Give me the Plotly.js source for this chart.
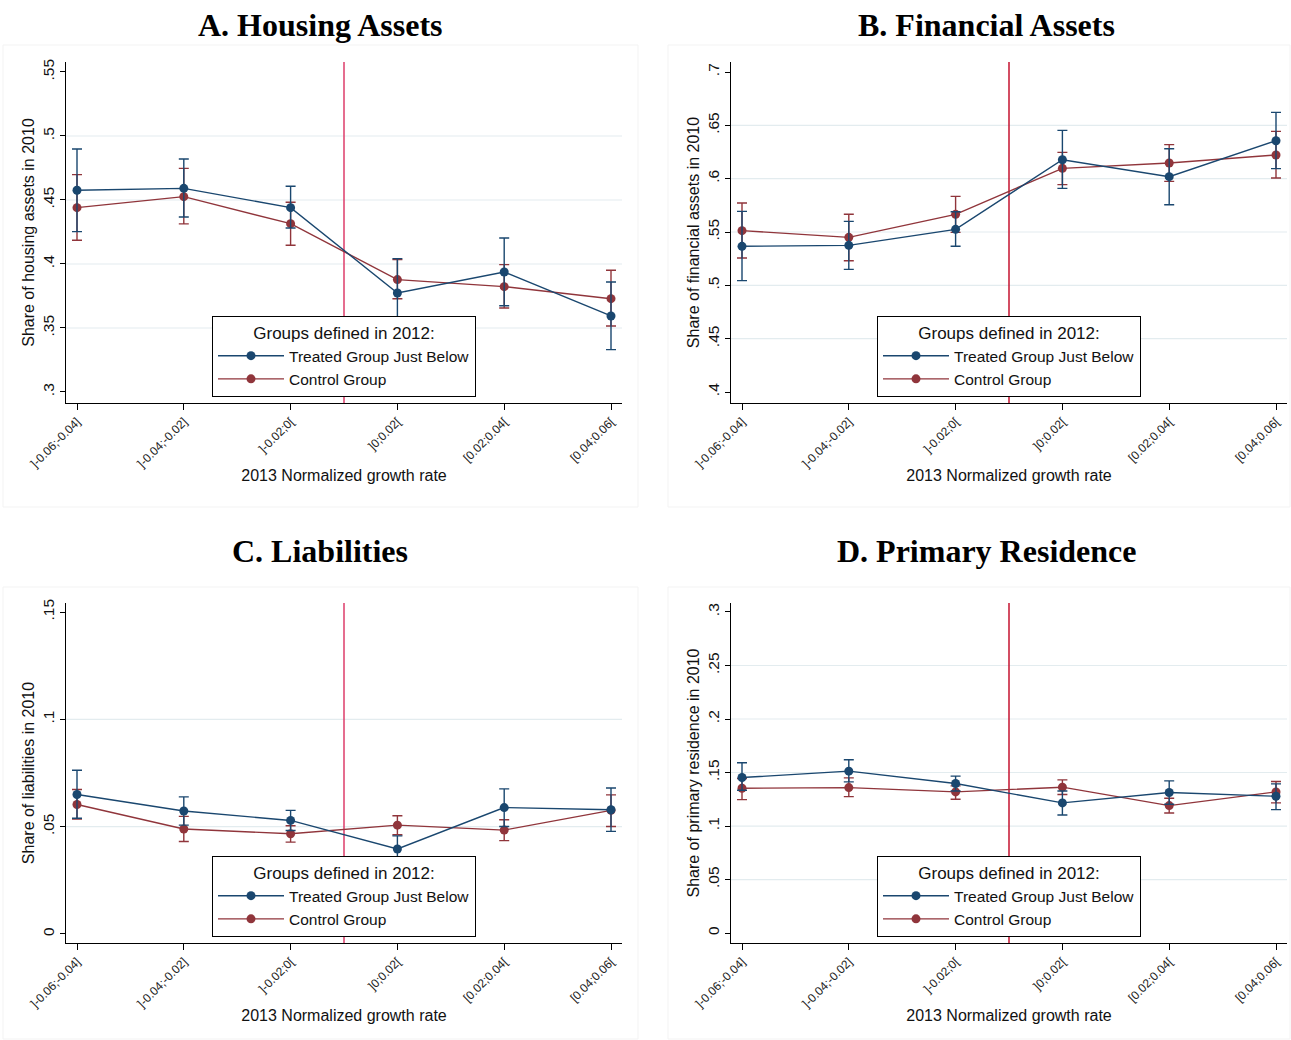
<!DOCTYPE html>
<html>
<head>
<meta charset="utf-8">
<script src="https://cdn.plot.ly/plotly-3.0.1.min.js"></script>
<style>
  html, body { margin: 0; padding: 0; background: #ffffff; }
  #chart { width: 1291px; height: 1040px; }
</style>
</head>
<body>
<div id="chart"></div>
<script>
// ---------- Data ----------
const categories = [']-0.06;-0.04]', ']-0.04;-0.02]', ']-0.02;0[', ']0;0.02[', '[0.02;0.04[', '[0.04;0.06['];
const cutoffBetween = [2, 3]; // vertical line drawn between 3rd and 4th categories (0-based indices)

const panelTitles = ['A. Housing Assets', 'B. Financial Assets', 'C. Liabilities', 'D. Primary Residence'];
const yTitles = ['Share of housing assets in 2010', 'Share of financial assets in 2010',
                 'Share of liabilities in 2010', 'Share of primary residence in 2010'];
const xTitle = '2013 Normalized growth rate';
const legendTitle = 'Groups defined in 2012:';
const seriesNames = ['Treated Group Just Below', 'Control Group'];

// A. Housing assets
const housingTreated    = [0.4576, 0.4591, 0.4440, 0.3773, 0.3937, 0.3594];
const housingTreatedLo  = [0.4253, 0.4367, 0.4281, 0.3504, 0.3674, 0.3331];
const housingTreatedHi  = [0.4898, 0.4820, 0.4607, 0.4042, 0.4203, 0.3859];
const housingControl    = [0.4440, 0.4526, 0.4315, 0.3878, 0.3823, 0.3729];
const housingControlLo  = [0.4185, 0.4313, 0.4146, 0.3729, 0.3656, 0.3516];
const housingControlHi  = [0.4698, 0.4747, 0.4482, 0.4034, 0.3995, 0.3951];

// B. Financial assets
const financialTreated   = [0.5366, 0.5375, 0.5525, 0.6178, 0.6019, 0.6356];
const financialTreatedLo = [0.5044, 0.5150, 0.5366, 0.5909, 0.5756, 0.6094];
const financialTreatedHi = [0.5694, 0.5600, 0.5690, 0.6453, 0.6281, 0.6622];
const financialControl   = [0.5513, 0.5450, 0.5666, 0.6097, 0.6147, 0.6222];
const financialControlLo = [0.5256, 0.5231, 0.5497, 0.5944, 0.5975, 0.6006];
const financialControlHi = [0.5772, 0.5666, 0.5834, 0.6247, 0.6319, 0.6444];

// C. Liabilities
const liabTreated   = [0.0650, 0.0573, 0.0529, 0.0396, 0.0589, 0.0579];
const liabTreatedLo = [0.0539, 0.0507, 0.0482, 0.0337, 0.0501, 0.0478];
const liabTreatedHi = [0.0763, 0.0639, 0.0576, 0.0457, 0.0676, 0.0680];
const liabControl   = [0.0603, 0.0489, 0.0467, 0.0507, 0.0484, 0.0576];
const liabControlLo = [0.0536, 0.0431, 0.0428, 0.0462, 0.0435, 0.0501];
const liabControlHi = [0.0673, 0.0548, 0.0504, 0.0551, 0.0532, 0.0648];

// D. Primary residence
const resTreated   = [0.1453, 0.1513, 0.1397, 0.1216, 0.1313, 0.1278];
const resTreatedLo = [0.1334, 0.1413, 0.1328, 0.1103, 0.1203, 0.1153];
const resTreatedHi = [0.1591, 0.1619, 0.1466, 0.1328, 0.1422, 0.1394];
const resControl   = [0.1353, 0.1359, 0.1319, 0.1363, 0.1191, 0.1319];
const resControlLo = [0.1247, 0.1275, 0.1250, 0.1294, 0.1122, 0.1216];
const resControlHi = [0.1444, 0.1450, 0.1375, 0.1431, 0.1259, 0.1416];

// Y tick values / labels
const yTicksA = [0.3, 0.35, 0.4, 0.45, 0.5, 0.55];
const yLabelsA = ['.3', '.35', '.4', '.45', '.5', '.55'];
const yTicksB = [0.4, 0.45, 0.5, 0.55, 0.6, 0.65, 0.7];
const yLabelsB = ['.4', '.45', '.5', '.55', '.6', '.65', '.7'];
const yTicksC = [0, 0.05, 0.1, 0.15];
const yLabelsC = ['0', '.05', '.1', '.15'];
const yTicksD = [0, 0.05, 0.1, 0.15, 0.2, 0.25, 0.3];
const yLabelsD = ['0', '.05', '.1', '.15', '.2', '.25', '.3'];

// ---------- Styling ----------
const W = 1291, H = 1040;
const px = v => v / W;
const py = v => 1 - v / H;
const BLUE = '#1a476f';
const RED = '#90353b';
const CUT_AC = '#dc3c6a';
const CUT_BD = '#c4122f';
const GRID = '#e3ecef';
const SANS = 'Liberation Sans, Arial, sans-serif';
const SERIF = 'Liberation Serif, Times New Roman, serif';

const xPos = categories.map((_, i) => i + 1);
const cutX = (xPos[cutoffBetween[0]] + xPos[cutoffBetween[1]]) / 2;

const panels = [
  { t: housingTreated, tlo: housingTreatedLo, thi: housingTreatedHi,
    c: housingControl, clo: housingControlLo, chi: housingControlHi,
    ticks: yTicksA, labels: yLabelsA, range: [0.2914, 0.5578],
    dx: [66, 622], dy: [62, 403], cut: CUT_AC, frame: [3, 638, 45, 507], titleX: 320, titleY: 25 },
  { t: financialTreated, tlo: financialTreatedLo, thi: financialTreatedHi,
    c: financialControl, clo: financialControlLo, chi: financialControlHi,
    ticks: yTicksB, labels: yLabelsB, range: [0.3897, 0.7094],
    dx: [731, 1287], dy: [62, 403], cut: CUT_BD, frame: [668, 1290, 45, 507], titleX: 986, titleY: 25 },
  { t: liabTreated, tlo: liabTreatedLo, thi: liabTreatedHi,
    c: liabControl, clo: liabControlLo, chi: liabControlHi,
    ticks: yTicksC, labels: yLabelsC, range: [-0.0042, 0.1542],
    dx: [66, 622], dy: [603, 943], cut: CUT_AC, frame: [3, 638, 587, 1039], titleX: 320, titleY: 551 },
  { t: resTreated, tlo: resTreatedLo, thi: resTreatedHi,
    c: resControl, clo: resControlLo, chi: resControlHi,
    ticks: yTicksD, labels: yLabelsD, range: [-0.0093, 0.3084],
    dx: [731, 1287], dy: [603, 943], cut: CUT_BD, frame: [668, 1290, 587, 1039], titleX: 986, titleY: 551 }
];

const traces = [];
const shapes = [];
const annotations = [];
const layout = {
  width: W, height: H,
  margin: { l: 0, r: 0, t: 0, b: 0 },
  paper_bgcolor: '#ffffff',
  plot_bgcolor: '#ffffff',
  font: { family: SANS, color: '#111111' },
  showlegend: true,
  shapes: shapes,
  annotations: annotations
};

panels.forEach((p, i) => {
  const n = i + 1;
  const sfx = n === 1 ? '' : String(n);
  const xa = 'x' + sfx, ya = 'y' + sfx;
  const lg = n === 1 ? 'legend' : 'legend' + n;

  const mk = (vals, lo, hi, color, name) => ({
    type: 'scatter', mode: 'lines+markers',
    x: xPos, y: vals, name: name,
    xaxis: xa, yaxis: ya, legend: lg,
    line: { color: color, width: 1.4 },
    marker: { color: color, size: 9, symbol: 'circle' },
    error_y: {
      type: 'data', symmetric: false,
      array: hi.map((h, k) => h - vals[k]),
      arrayminus: lo.map((l, k) => vals[k] - l),
      color: color, thickness: 1.4, width: 5
    },
    hoverinfo: 'x+y'
  });
  traces.push(mk(p.c, p.clo, p.chi, RED, seriesNames[1]));
  traces.push(mk(p.t, p.tlo, p.thi, BLUE, seriesNames[0]));

  layout['xaxis' + sfx] = {
    domain: [px(p.dx[0]), px(p.dx[1])],
    anchor: ya,
    range: [0.897, 6.103],
    tickvals: xPos, ticktext: categories,
    tickangle: -45,
    ticks: 'outside', ticklen: 6, tickwidth: 1, tickcolor: '#000',
    showline: true, linecolor: '#000', linewidth: 1,
    showgrid: false, zeroline: false,
    tickfont: { family: SANS, size: 12, color: '#222' },
    title: { text: xTitle, font: { family: SANS, size: 16, color: '#111' }, standoff: 0 },
    fixedrange: true
  };
  layout['yaxis' + sfx] = {
    domain: [py(p.dy[1]), py(p.dy[0])],
    anchor: xa,
    range: p.range,
    tickvals: p.ticks, ticktext: p.labels,
    tickangle: -90,
    ticks: 'outside', ticklen: 5, tickwidth: 1, tickcolor: '#000',
    showline: true, linecolor: '#000', linewidth: 1,
    showgrid: false, zeroline: false,
    tickfont: { family: SANS, size: 15.5, color: '#111' },
    title: { text: yTitles[i], font: { family: SANS, size: 16, color: '#111' }, standoff: 1 },
    fixedrange: true
  };

  // inner grid lines (Stata style: not at the axis extremes)
  p.ticks.slice(1, -1).forEach(v => {
    shapes.push({ type: 'line', xref: xa + ' domain', yref: ya, x0: 0, x1: 1, y0: v, y1: v,
      line: { color: GRID, width: 1.2 }, layer: 'below' });
  });
  // cutoff line
  shapes.push({ type: 'line', xref: xa, yref: ya + ' domain', x0: cutX, x1: cutX, y0: 0, y1: 1,
    line: { color: p.cut, width: 1.5 }, layer: 'below' });
  // faint panel frame
  shapes.push({ type: 'rect', xref: 'paper', yref: 'paper',
    x0: px(p.frame[0]), x1: px(p.frame[1]), y0: py(p.frame[3]), y1: py(p.frame[2]),
    line: { color: '#f3f3f3', width: 1 }, fillcolor: 'rgba(0,0,0,0)', layer: 'below' });

  annotations.push({ text: '<b>' + panelTitles[i] + '</b>', xref: 'paper', yref: 'paper',
    x: px(p.titleX), y: py(p.titleY), xanchor: 'center', yanchor: 'middle', showarrow: false,
    font: { family: SERIF, size: 32, color: '#000' } });

  layout[lg] = {
    x: px((p.dx[0] + p.dx[1]) / 2), xanchor: 'center',
    y: py(p.dy[1] - 6), yanchor: 'bottom',
    bgcolor: '#ffffff', bordercolor: '#000', borderwidth: 1,
    font: { family: SANS, size: 15.5, color: '#111' },
    title: { text: legendTitle, side: 'top center', font: { family: SANS, size: 17, color: '#111' } },
    traceorder: 'reversed',
    tracegroupgap: 0,
    itemwidth: 66,
    itemclick: false, itemdoubleclick: false
  };
});

Plotly.newPlot('chart', traces, layout, { staticPlot: true, displayModeBar: false });
</script>
</body>
</html>
